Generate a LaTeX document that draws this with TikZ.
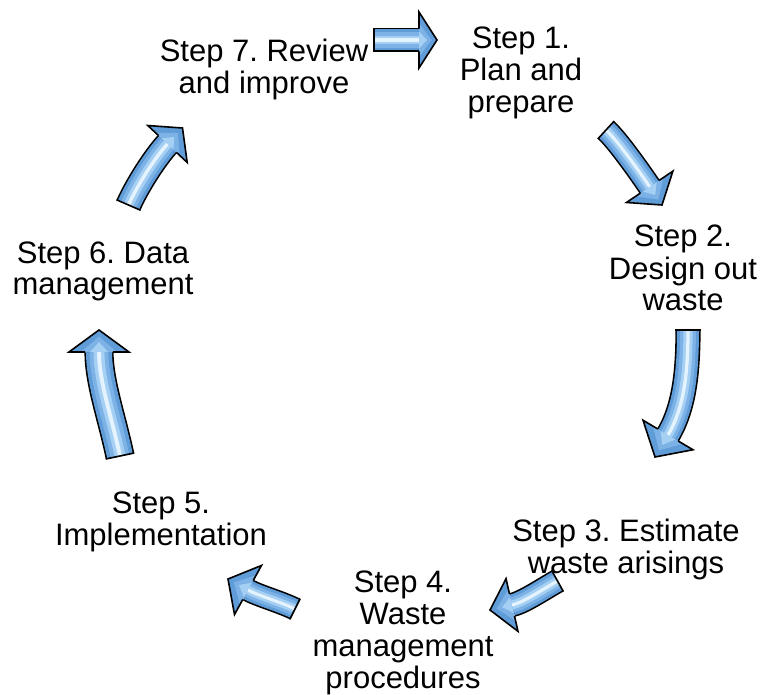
\documentclass[tikz,border=0pt]{standalone}
\usepackage{fontspec}
\setmainfont{Liberation Sans}
\usetikzlibrary{calc}
\definecolor{abase}{RGB}{96,156,216}
\definecolor{amid}{RGB}{124,178,230}
\definecolor{asoft}{RGB}{165,208,243}
\definecolor{alight}{RGB}{228,243,254}
\tikzset{
  steptext/.style={align=center, inner sep=0pt, anchor=base,
    font=\fontsize{31}{32}\selectfont\frenchspacing, text=black},
}
% #1 tail, #2 tail control, #3 head base, #4 tip, #5 shaft width, #6 head half width, #7 back control distance
\newcommand\blockarrow[7]{%
  \pgfmathsetmacro\baW{#5}%
  \pgfmathsetmacro\baE{#5/2+0.8}%
  \pgfmathsetmacro\baT{#5/2+1.6}%
  \pgfmathsetmacro\baM{0.72*#5}%
  \pgfmathsetmacro\baS{0.42*#5}%
  \pgfmathsetmacro\baL{0.15*#5}%
  \draw[line width=1.6pt, double=abase, double distance=\baW pt]
    (#1) .. controls (#2) and ($(#3)!-#7pt!(#4)$) .. (#3);
  \fill[abase] ($(#3)!#6pt!90:(#4)$) -- (#4) -- ($(#3)!#6pt!-90:(#4)$) -- cycle;
  \fill[amid] ($(#3)!0.6*#6pt!90:(#4)$) -- ($(#3)!0.7!(#4)$) -- ($(#3)!0.6*#6pt!-90:(#4)$) -- cycle;
  \fill[asoft] ($(#3)!0.3*#6pt!90:(#4)$) -- ($(#3)!0.45!(#4)$) -- ($(#3)!0.3*#6pt!-90:(#4)$) -- cycle;
  \draw[line width=\baM pt, amid] (#1) .. controls (#2) and ($(#3)!-#7pt!(#4)$) .. (#3);
  \draw[line width=\baS pt, asoft] (#1) .. controls (#2) and ($(#3)!-#7pt!(#4)$) .. (#3);
  \draw[line width=\baL pt, alight] (#1) .. controls (#2) and ($(#3)!-#7pt!(#4)$) .. (#3);
  \draw[line width=1.6pt, line join=miter]
    ($(#3)!\baE pt!90:(#4)$) -- ($(#3)!#6pt!90:(#4)$) -- (#4)
    -- ($(#3)!#6pt!-90:(#4)$) -- ($(#3)!\baE pt!-90:(#4)$);
  \draw[line width=1.6pt] ($(#1)!\baT pt!90:(#2)$) -- ($(#1)!\baT pt!-90:(#2)$);
}
\begin{document}
\begin{tikzpicture}[x=1pt,y=-1pt]
\useasboundingbox (0,0) rectangle (761,695);

% base anchor = baseline of the last line
\node[steptext] (s1) at (521,113) {Step 1.\\Plan and\\prepare};
\node[steptext] (s2) at (683,311) {Step 2.\\Design out\\waste};
\node[steptext] (s3) at (626,573) {Step 3. Estimate\\waste arisings};
\node[steptext] (s4) at (403,688) {Step 4.\\Waste\\management\\procedures};
\node[steptext] (s5) at (161,545) {Step 5.\\Implementation};
\node[steptext] (s6) at (103,295) {Step 6. Data\\management};
\node[steptext] (s7) at (264,94) {Step 7. Review\\and improve};

% arrow 7 -> 1
\coordinate (a71t) at (374,40);
\coordinate (a71c) at (390,40);
\coordinate (a71b) at (419,40);
\coordinate (a71p) at (437,40);
\blockarrow{a71t}{a71c}{a71b}{a71p}{21}{28}{10}

% arrow 1 -> 2
\coordinate (a12t) at (606,130);
\coordinate (a12c) at (618,141);
\coordinate (a12b) at (649.7,186.8);
\coordinate (a12p) at (662,205);
\blockarrow{a12t}{a12c}{a12b}{a12p}{21}{28}{15}

% arrow 2 -> 3
\coordinate (a23t) at (688,330);
\coordinate (a23c) at (688,372);
\coordinate (a23b) at (668,435);
\coordinate (a23p) at (655,457);
\blockarrow{a23t}{a23c}{a23b}{a23p}{22}{29}{32}

% arrow 3 -> 4
\coordinate (a34t) at (557.5,581);
\coordinate (a34c) at (544,588.5);
\coordinate (a34b) at (512,605);
\coordinate (a34p) at (490,610);
\blockarrow{a34t}{a34c}{a34b}{a34p}{21}{27}{12}

% arrow 4 -> 5
\coordinate (a45t) at (295,609);
\coordinate (a45c) at (281,602);
\coordinate (a45b) at (248,590);
\coordinate (a45p) at (228,579);
\blockarrow{a45t}{a45c}{a45b}{a45p}{20}{28}{12}

% arrow 5 -> 6
\coordinate (a56t) at (120,456);
\coordinate (a56c) at (112,418);
\coordinate (a56b) at (99,352);
\coordinate (a56p) at (99,330);
\blockarrow{a56t}{a56c}{a56b}{a56p}{26}{30}{30}

% arrow 6 -> 7
\coordinate (a67t) at (128.5,205);
\coordinate (a67c) at (136.5,186.6);
\coordinate (a67b) at (167.5,144);
\coordinate (a67p) at (182.5,128);
\blockarrow{a67t}{a67c}{a67b}{a67p}{23}{27}{18}
\end{tikzpicture}
\end{document}
